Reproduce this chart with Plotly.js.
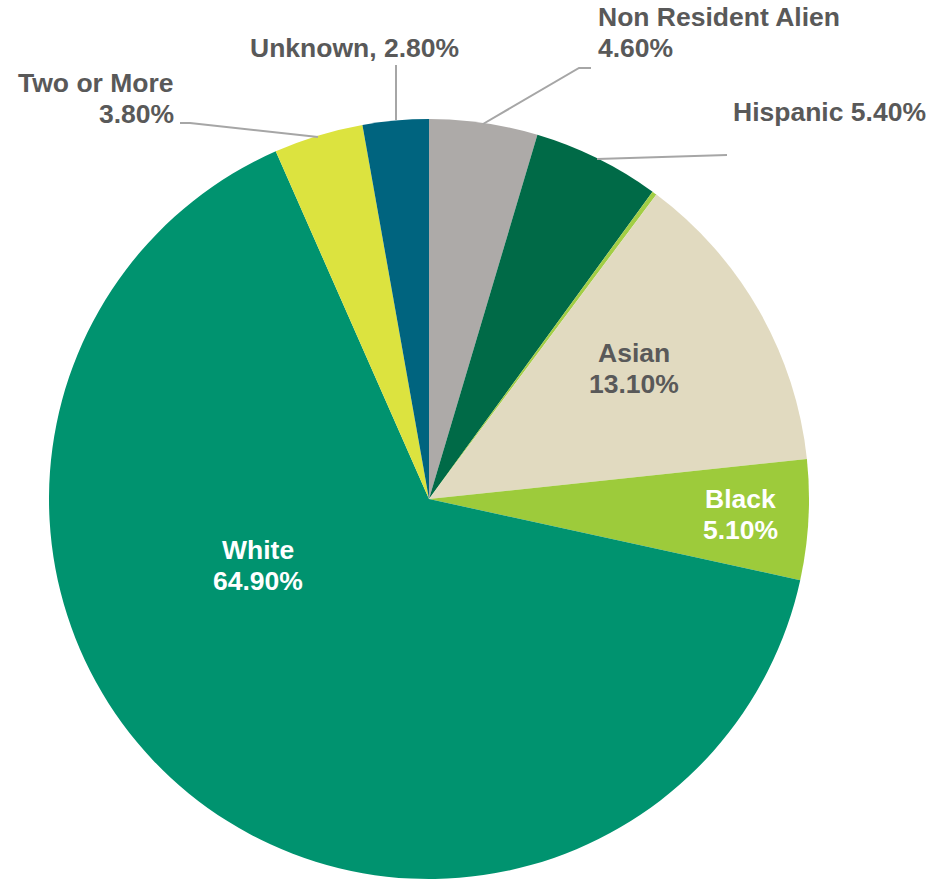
<!DOCTYPE html>
<html>
<head>
<meta charset="utf-8">
<script src="https://cdn.plot.ly/plotly-3.0.1.min.js"></script>
<style>html,body{margin:0;padding:0;background:#fff;}#chart{width:939px;height:883px;}</style>
</head>
<body>
<div id="chart"></div>
<script>
// Data (clockwise from 12 o'clock)
const categories = ["Non Resident Alien", "Hispanic", "American Indian", "Asian", "Black", "White", "Two or More", "Unknown"];
const percentages = [4.6, 5.4, 0.2, 13.1, 5.1, 64.9, 3.8, 2.8];
const colors = ["#ADAAA8", "#006A47", "#A2CE45", "#E1DAC0", "#9DCB3B", "#00936F", "#DCE33F", "#00647F"];
const labelSeparators = ["<br>", " ", null, "<br>", "<br>", "<br>", "<br>", ", "];

const W = 939, H = 883;
function px(x) { return x / W; }
function py(y) { return 1 - y / H; }

// label placement (style / layout): y = centre of first line
const labelPlacement = {
  "Non Resident Alien": {x: 596, y: 17, xanchor: "left", color: "#595959"},
  "Hispanic": {x: 731, y: 112, xanchor: "left", color: "#595959"},
  "Asian": {x: 634, y: 353, xanchor: "center", color: "#595959"},
  "Black": {x: 740, y: 499, xanchor: "center", color: "#ffffff"},
  "White": {x: 258, y: 550, xanchor: "center", color: "#ffffff"},
  "Two or More": {x: 176, y: 83, xanchor: "right", color: "#595959"},
  "Unknown": {x: 354, y: 48, xanchor: "center", color: "#595959"}
};
const LINE_GAP = 31;

const annotations = [];
categories.forEach((c, i) => {
  const p = labelPlacement[c];
  if (!p || labelSeparators[i] === null) return;
  const text = c + labelSeparators[i] + percentages[i].toFixed(2) + "%";
  text.split("<br>").forEach((line, k) => {
    annotations.push({
      xref: "paper", yref: "paper",
      x: px(p.x), y: py(p.y + k * LINE_GAP),
      xanchor: p.xanchor, yanchor: "middle",
      showarrow: false,
      text: line,
      font: {family: "Liberation Sans, Arial, sans-serif", size: 26.5, color: p.color, weight: "bold"}
    });
  });
});

function pathFrom(pts) {
  return pts.map((p, k) => (k ? "L" : "M") + px(p[0]) + "," + py(p[1])).join(" ");
}
const leaderLines = [
  [[483, 124], [579, 68], [591, 68]],
  [[597, 159], [727, 155]],
  [[396, 120], [396, 65]],
  [[318, 137], [190, 123], [180, 123]]
];
const shapes = leaderLines.map(pts => ({
  type: "path", xref: "paper", yref: "paper",
  path: pathFrom(pts),
  line: {color: "#A6A6A6", width: 2}
}));

const trace = {
  type: "pie",
  labels: categories,
  values: percentages,
  sort: false,
  direction: "clockwise",
  rotation: 0,
  textinfo: "none",
  hoverinfo: "label+percent",
  marker: {colors: colors, line: {width: 0}},
  domain: {x: [49 / W, 809 / W], y: [(384 - 380) / H, (384 + 380) / H]},
  showlegend: false
};

const layout = {
  width: W, height: H,
  margin: {l: 0, r: 0, t: 0, b: 0},
  paper_bgcolor: "#ffffff",
  showlegend: false,
  annotations: annotations,
  shapes: shapes
};

Plotly.newPlot("chart", [trace], layout, {displayModeBar: false, staticPlot: true});
</script>
</body>
</html>
